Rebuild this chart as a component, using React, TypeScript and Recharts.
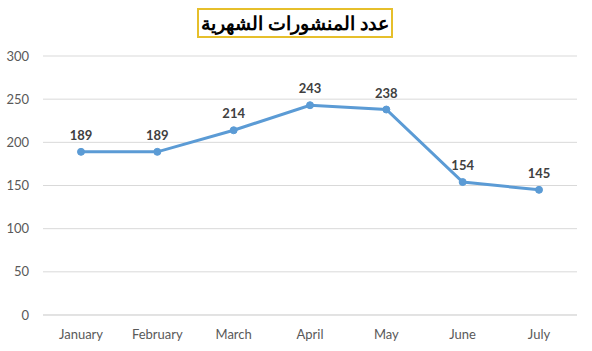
import React from "react"
import { LineChart, Line, XAxis, YAxis, CartesianGrid, LabelList } from "recharts"

const months = ["January", "February", "March", "April", "May", "June", "July"]
const posts = [189, 189, 214, 243, 238, 154, 145]
const yTicks = [0, 50, 100, 150, 200, 250, 300]
const title = "عدد المنشورات الشهرية"

const data = months.map((month, i) => ({ month, posts: posts[i] }))

export default function App() {
  return (
    <div style={{ position: "absolute", top: 0, left: 0, width: 592, height: 351, background: "#fff", fontFamily: "Lato, 'Open Sans', sans-serif" }}>
      <LineChart width={592} height={351} data={data} margin={{ top: 56, right: 15, left: 0, bottom: 0 }}>
        <CartesianGrid vertical={false} stroke="#D9D9D9" />
        <XAxis
          dataKey="month"
          height={36}
          padding={{ left: 38, right: 38 }}
          axisLine={{ stroke: "#D9D9D9" }}
          tickLine={false}
          tickMargin={9}
          tick={{ fill: "#595959", fontSize: 13 }}
        />
        <YAxis
          width={43}
          domain={[0, 300]}
          ticks={yTicks}
          axisLine={false}
          tickLine={false}
          tickMargin={8}
          tick={{ fill: "#595959", fontSize: 13 }}
        />
        <Line
          type="linear"
          dataKey="posts"
          stroke="#5B9BD5"
          strokeWidth={3}
          dot={{ r: 3.5, fill: "#5B9BD5", stroke: "#5B9BD5", strokeWidth: 1 }}
          isAnimationActive={false}
        >
          <LabelList dataKey="posts" position="top" offset={12} fill="#404040" fontSize={13} fontWeight="bold" />
        </Line>
      </LineChart>
      <div
        style={{
          position: "absolute",
          left: 197,
          top: 8,
          width: 192,
          height: 26,
          border: "2px solid #E6BF2B",
          display: "flex",
          alignItems: "center",
          justifyContent: "center",
          whiteSpace: "nowrap",
          fontFamily: "'Liberation Sans', Arial, sans-serif",
          fontWeight: "bold",
          fontSize: 19,
          direction: "rtl",
          color: "#000",
          background: "#fff",
        }}
      >
        {title}
      </div>
    </div>
  )
}
